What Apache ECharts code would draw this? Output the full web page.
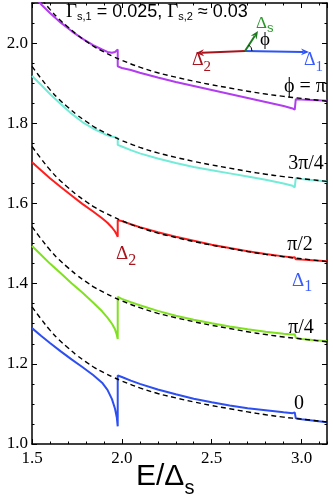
<!DOCTYPE html>
<html><head><meta charset="utf-8">
<script src="https://cdn.jsdelivr.net/npm/echarts/dist/echarts.min.js"></script>
<style>html,body{margin:0;padding:0;background:#fff}#c{width:333px;height:501px}</style>
</head><body><div id="c"></div><script>
// ---- data ----
const xTickLabels = ['1.5', '2.0', '2.5', '3.0'];
const yTickLabels = ['1.0', '1.2', '1.4', '1.6', '1.8', '2.0'];

const curveX = [1.5,1.55,1.6,1.66,1.72,1.78,1.84,1.89,1.92,1.945,1.962,1.972,1.977,1.977,2.0,2.05,2.1,2.2,2.3,2.4,2.5,2.6,2.7,2.8,2.9,2.95,2.962,2.968,2.968,3.0,3.1416];
const phi0   = [1.289,1.270,1.252,1.231,1.211,1.192,1.172,1.153,1.135,1.112,1.088,1.066,1.044,1.171,1.167,1.158,1.150,1.136,1.124,1.113,1.104,1.096,1.089,1.084,1.079,1.077,1.079,1.083,1.064,1.062,1.054];
const phiQ1  = [1.494,1.472,1.450,1.426,1.401,1.378,1.353,1.331,1.315,1.300,1.286,1.272,1.262,1.367,1.362,1.354,1.346,1.332,1.320,1.310,1.301,1.293,1.286,1.280,1.275,1.273,1.274,1.275,1.265,1.262,1.256];
const phiQ2  = [1.703,1.683,1.663,1.641,1.620,1.599,1.580,1.563,1.552,1.540,1.530,1.522,1.517,1.558,1.556,1.548,1.541,1.528,1.517,1.507,1.497,1.489,1.481,1.474,1.468,1.465,1.466,1.467,1.461,1.460,1.456];
const phiQ3  = [1.918,1.896,1.873,1.848,1.824,1.803,1.787,1.776,1.770,1.767,1.765,1.764,1.763,1.746,1.742,1.733,1.725,1.712,1.701,1.691,1.683,1.675,1.667,1.659,1.650,1.644,1.640,1.637,1.663,1.661,1.655];
const phiPi  = [2.125,2.097,2.075,2.051,2.030,2.011,1.995,1.984,1.978,1.976,1.978,1.981,1.984,1.942,1.938,1.933,1.926,1.914,1.903,1.893,1.883,1.873,1.863,1.853,1.843,1.837,1.834,1.831,1.860,1.859,1.856];

const dashX  = [1.5,1.55,1.6,1.65,1.7,1.75,1.8,1.85,1.9,1.95,2.0,2.1,2.2,2.3,2.4,2.5,2.6,2.7,2.8,2.9,3.0,3.1416];
const dash0  = [1.342,1.312,1.284,1.260,1.240,1.221,1.205,1.190,1.178,1.167,1.157,1.140,1.126,1.115,1.105,1.096,1.088,1.080,1.073,1.067,1.062,1.055];
const dash1  = [1.542,1.512,1.484,1.460,1.440,1.421,1.405,1.390,1.378,1.367,1.357,1.340,1.326,1.315,1.305,1.296,1.288,1.280,1.273,1.267,1.262,1.255];
const dash2  = [1.742,1.712,1.684,1.660,1.640,1.621,1.605,1.590,1.578,1.567,1.557,1.540,1.526,1.515,1.505,1.496,1.488,1.480,1.473,1.467,1.462,1.455];
const dash3  = [1.942,1.912,1.884,1.860,1.840,1.821,1.805,1.790,1.778,1.767,1.757,1.740,1.726,1.715,1.705,1.696,1.688,1.680,1.673,1.667,1.662,1.655];
const dash4  = [2.142,2.112,2.084,2.060,2.040,2.021,2.005,1.990,1.978,1.967,1.957,1.940,1.926,1.915,1.905,1.896,1.888,1.880,1.873,1.867,1.862,1.855];

const curveLabels = ['ϕ = π', '3π/4', 'π/2', 'π/4', '0'];
// ---- chart ----
const X_MIN = 1.5, X_MAX = 3.1416, Y_MIN = 1.0, Y_MAX = 2.1;
const SERIF = 'Liberation Serif', SANS = 'Liberation Sans';
const zip = (xs, ys) => xs.map((x, i) => [x, ys[i]]);

function fmtX(v){ const s = v.toFixed(1); return xTickLabels.includes(s) && Math.abs(v - parseFloat(s)) < 1e-6 ? s : ''; }
function fmtY(v){ const s = v.toFixed(1); return yTickLabels.includes(s) && Math.abs(v - parseFloat(s)) < 1e-6 ? s : ''; }

function xAx(pos, interval, len, labels, line){
  return {type:'value', position:pos, min:X_MIN, max:X_MAX, interval:interval,
    axisLine:{show:line, onZero:false, lineStyle:{color:'#000', width:1.5}},
    axisTick:{show:true, inside:true, length:len, lineStyle:{color:'#000', width:1}},
    axisLabel:{show:labels, formatter:fmtX, margin:6, fontFamily:SERIF, fontSize:17, color:'#000', showMaxLabel:false},
    splitLine:{show:false}};
}
function yAx(pos, interval, len, labels, line){
  return {type:'value', position:pos, min:Y_MIN, max:Y_MAX, interval:interval,
    axisLine:{show:line, onZero:false, lineStyle:{color:'#000', width:1.5}},
    axisTick:{show:true, inside:true, length:len, lineStyle:{color:'#000', width:1}},
    axisLabel:{show:labels, formatter:fmtY, margin:4, fontFamily:SERIF, fontSize:17, color:'#000', showMaxLabel:false},
    splitLine:{show:false}};
}

const colored = [
  {d: phi0,  c:'#2d4ff0'},
  {d: phiQ1, c:'#80e21e'},
  {d: phiQ2, c:'#ff1e1e'},
  {d: phiQ3, c:'#72ecd8'},
  {d: phiPi, c:'#b23cf0'}
];
const dashed = [dash0, dash1, dash2, dash3, dash4];

const series = [];
colored.forEach(s => series.push({type:'line', xAxisIndex:0, yAxisIndex:0, data:zip(curveX, s.d),
  showSymbol:false, smooth:false, z:2, lineStyle:{color:s.c, width:2}, clip:true}));
dashed.forEach(d => series.push({type:'line', xAxisIndex:0, yAxisIndex:0, data:zip(dashX, d),
  showSymbol:false, smooth:0.4, z:3, lineStyle:{color:'#000', width:1.4, type:[5,3.5]}, clip:true}));

// text measuring for sub-scripted labels
const mctx = document.createElement('canvas').getContext('2d');
function tw(t, fam, fs){ mctx.font = fs + 'px "' + fam + '"'; return mctx.measureText(t).width; }
function txt(x, y, t, fam, fs, color){
  return {type:'text', z:10, x:x, y:y, style:{text:t, align:'left', verticalAlign:'middle', fontFamily:fam, fontSize:fs, fill:color}};
}
// pieces: [text, family, size, dy, color]
function run(x, y, pieces){
  const out = []; let cx = x;
  pieces.forEach(p => { out.push(txt(cx, y + p[3], p[0], p[1], p[2], p[4])); cx += tw(p[0], p[1], p[2]); });
  return out;
}
function arrow(x1,y1,x2,y2,color){
  const dx=x2-x1, dy=y2-y1, L=Math.hypot(dx,dy), ux=dx/L, uy=dy/L, hl=8, hw=3.5;
  const bx=x2-ux*hl, by=y2-uy*hl;
  return [
    {type:'line', z:10, shape:{x1:x1,y1:y1,x2:bx+ux*2,y2:by+uy*2}, style:{stroke:color, lineWidth:2}},
    {type:'polygon', z:10, shape:{points:[[x2,y2],[bx-uy*hw,by+ux*hw],[bx+ux*2.5,by+uy*2.5],[bx+uy*hw,by-ux*hw]]}, style:{fill:color}}
  ];
}
function lab(x, y, t){
  return {type:'text', z:10, x:x, y:y, style:{text:t, align:'center', verticalAlign:'middle',
    fontFamily:SERIF, fontSize:20, fill:'#000'}};
}

const RED = '#a8141e', BLUE = '#3a5cff', GREEN = '#2a962a';
const ox = 245, oy = 51;
const graphics = [].concat(
  arrow(ox,oy,309,52,'#2d55f5'),
  arrow(ox,oy,196,53,RED),
  arrow(ox,oy,258,31,'#1e7a1e'),
  [{type:'arc', z:10, shape:{cx:ox, cy:oy, r:7, startAngle:-1.0, endAngle:0, clockwise:true}, style:{stroke:'#000', lineWidth:1, fill:null}}],
  run(256, 24, [['Δ', SERIF, 17, 0, GREEN], ['s', SANS, 13, 4, GREEN]]),
  [{type:'text', z:10, x:265, y:40, style:{text:'ϕ', align:'center', verticalAlign:'middle', fontFamily:SERIF, fontSize:19, fill:'#000'}}],
  run(192, 60, [['Δ', SERIF, 18, 0, RED], ['2', SERIF, 15, 7, RED]]),
  run(304, 60, [['Δ', SERIF, 18, 0, BLUE], ['1', SERIF, 15, 7, BLUE]]),
  run(116, 254, [['Δ', SERIF, 19, 0, RED], ['2', SERIF, 16, 7, RED]]),
  run(292, 281, [['Δ', SERIF, 19, 0, BLUE], ['1', SERIF, 16, 6, BLUE]]),
  [lab(305, 87, curveLabels[0]), lab(306, 164, curveLabels[1]), lab(300, 245, curveLabels[2]),
   lab(301, 328, curveLabels[3]), lab(299, 404, curveLabels[4])],
  run(66, 12.5, [['Γ', SERIF, 19, 0, '#000'], ['s,1', SANS, 11, 4, '#000'], [' = 0.025, ', SANS, 18, 0, '#000'],
                 ['Γ', SERIF, 19, 0, '#000'], ['s,2', SANS, 11, 4, '#000'], [' ≈ 0.03', SANS, 18, 0, '#000']]),
  run(136, 477, [['E/Δ', SANS, 30, 0, '#000'], ['s', SANS, 20, 11, '#000']])
);

const chart = echarts.init(document.getElementById('c'), null, {renderer:'canvas'});
chart.setOption({
  animation:false,
  backgroundColor:'#fff',
  grid:{left:32, right:6, top:3, bottom:57, containLabel:false},
  xAxis:[xAx('bottom',0.5,5,true,true), xAx('bottom',0.1,2.5,false,false), xAx('top',0.5,5,false,true), xAx('top',0.1,2.5,false,false)],
  yAxis:[yAx('left',0.2,5,true,true), yAx('left',0.05,2.5,false,false), yAx('right',0.2,5,false,true), yAx('right',0.05,2.5,false,false)],
  series:series,
  graphic:graphics
});
</script></body></html>
